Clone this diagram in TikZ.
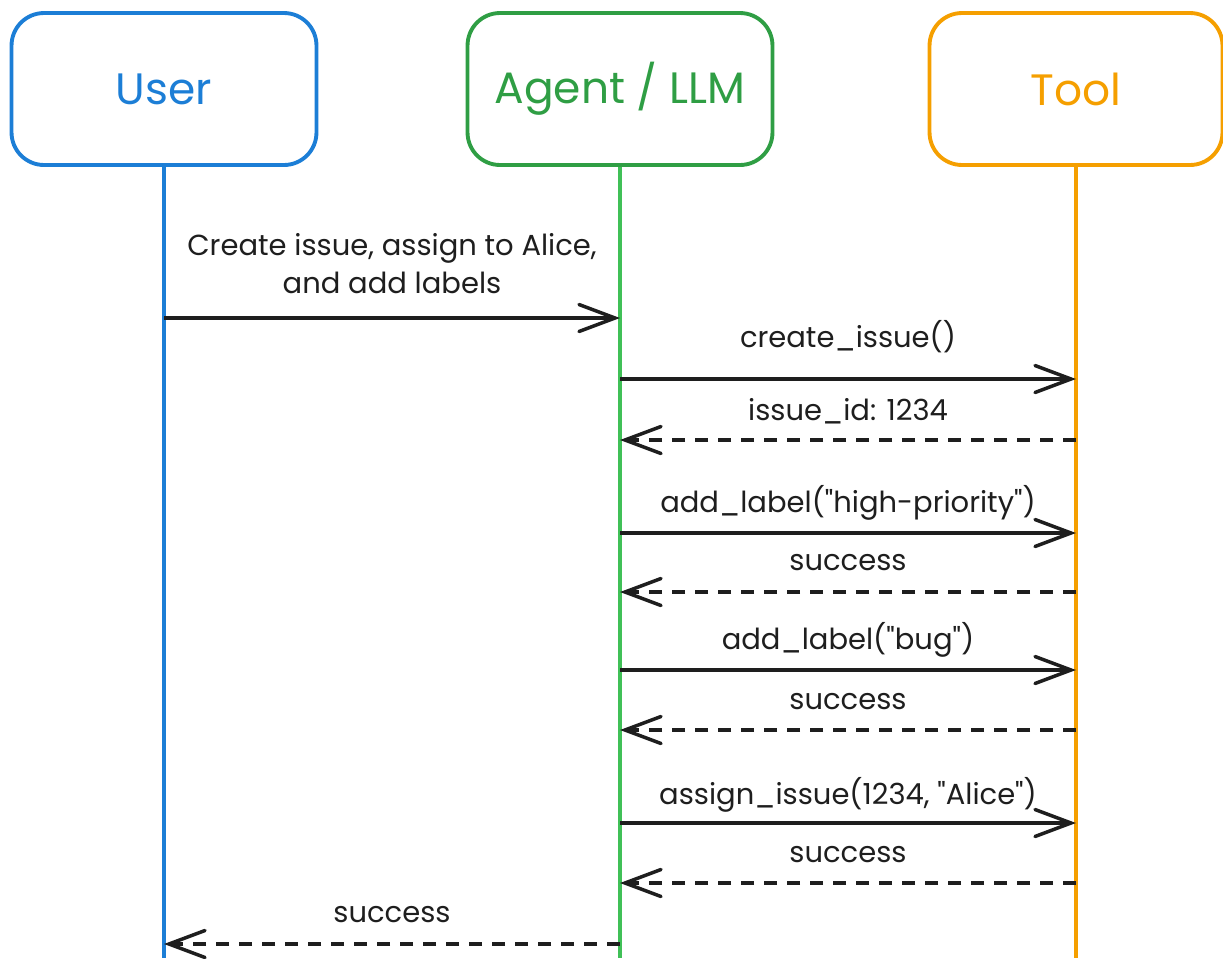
\documentclass[tikz,border=0pt]{standalone}
\usepackage{fontspec}
\setmainfont{Poppins}
\usetikzlibrary{arrows.meta,positioning}
\definecolor{userblue}{HTML}{1C7ED6}
\definecolor{agentgreen}{HTML}{2F9E44}
\definecolor{lifegreen}{HTML}{40C057}
\definecolor{toolorange}{HTML}{F59F00}
\definecolor{ink}{HTML}{1E1E1E}

\begin{document}
\begin{tikzpicture}[x=0.02cm,y=-0.02cm,
    actor/.style={draw=#1, text=#1, line width=2.2pt, rounded corners=0.65cm,
      minimum width=6.1cm, minimum height=3.04cm, font=\fontsize{25}{30}\selectfont},
    lifeline/.style={draw=#1, line width=2.2pt},
    call/.style={draw=ink, line width=2pt,
      -{Straight Barb[length=0.72cm, width=0.54cm, line cap=round]}},
    reply/.style={call, dash pattern=on 0.26cm off 0.2cm},
    msg/.style={text=ink, font=\fontsize{16.5}{21.6}\selectfont, align=center}]
  \useasboundingbox (0,0) rectangle (1223,958);

  \node[actor=userblue] (user) at (164,89) {User};                 %User box
  \node[actor=agentgreen] (agent) at (620,89) {Agent / LLM};      %Agent box
  \node[actor=toolorange, minimum width=5.86cm] (tool) at (1076,89) {Tool}; %Tool box

  \coordinate (user-end) at (164,958);
  \coordinate (agent-end) at (620,958);
  \coordinate (tool-end) at (1076,958);
  \draw[lifeline=userblue] (user) -- (user-end);     %Lifelines
  \draw[lifeline=lifegreen] (agent) -- (agent-end);
  \draw[lifeline=toolorange] (tool) -- (tool-end);

  % message end points on the lifelines
  \coordinate (u1) at (164,318);  \coordinate (a1) at (620,318);
  \coordinate (a2) at (620,379);  \coordinate (t2) at (1076,379);
  \coordinate (a3) at (620,440);  \coordinate (t3) at (1076,440);
  \coordinate (a4) at (620,533);  \coordinate (t4) at (1076,533);
  \coordinate (a5) at (620,592);  \coordinate (t5) at (1076,592);
  \coordinate (a6) at (620,670);  \coordinate (t6) at (1076,670);
  \coordinate (a7) at (620,730);  \coordinate (t7) at (1076,730);
  \coordinate (a8) at (620,823);  \coordinate (t8) at (1076,823);
  \coordinate (a9) at (620,883);  \coordinate (t9) at (1076,883);
  \coordinate (u10) at (164,944); \coordinate (a10) at (620,944);

  \draw[call] (u1) -- node[msg, yshift=1.08cm] (ask) {Create issue, assign to Alice,\\and add labels} (a1);
  \draw[call] (a2) -- node[msg, yshift=0.84cm] (create) {create\_issue()} (t2);
  \draw[reply] (t3) -- node[msg, yshift=0.58cm] (id) {issue\_id: 1234} (a3);
  \draw[call] (a4) -- node[msg, yshift=0.6cm] (label1) {add\_label(\textquotedbl high-priority\textquotedbl)} (t4);
  \draw[reply] (t5) -- node[msg, yshift=0.58cm] (ok1) {success} (a5);
  \draw[call] (a6) -- node[msg, yshift=0.6cm] (label2) {add\_label(\textquotedbl bug\textquotedbl)} (t6);
  \draw[reply] (t7) -- node[msg, yshift=0.56cm] (ok2) {success} (a7);
  \draw[call] (a8) -- node[msg, yshift=0.56cm] (assign) {assign\_issue(1234, \textquotedbl Alice\textquotedbl)} (t8);
  \draw[reply] (t9) -- node[msg, yshift=0.56cm] (ok3) {success} (a9);
  \draw[reply] (a10) -- node[msg, yshift=0.58cm] (done) {success} (u10);
\end{tikzpicture}
\end{document}
